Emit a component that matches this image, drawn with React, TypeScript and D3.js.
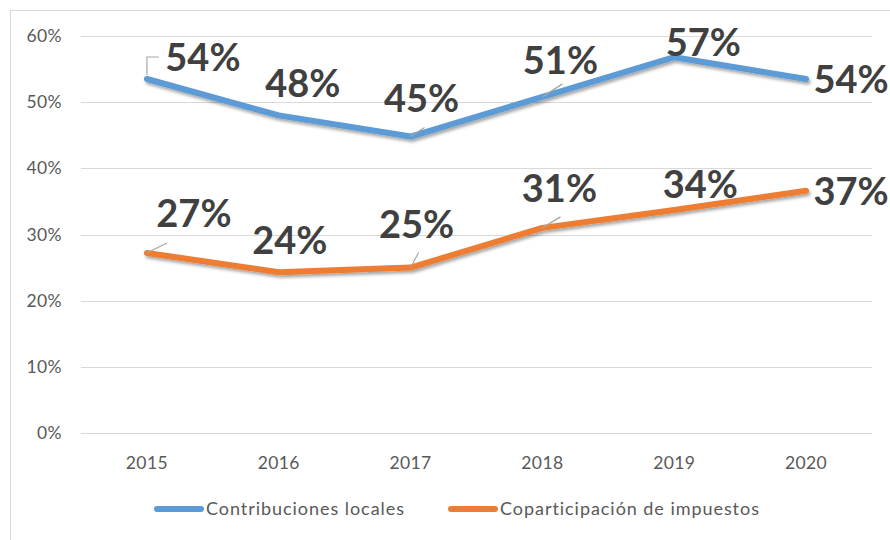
import * as d3 from "d3";
import React from "react";

const years = ["2015", "2016", "2017", "2018", "2019", "2020"];
const contribuciones = [53.5, 48.0, 44.8, 50.8, 56.8, 53.5];
const coparticipacion = [27.2, 24.3, 25.0, 31.0, 33.7, 36.6];
const yTicks = [0, 10, 20, 30, 40, 50, 60];
const seriesNames = ["Contribuciones locales", "Coparticipación de impuestos"];

// label placement relative to each point (layout only)
const blueLabelOffsets = [[56, -22], [24, -32], [11, -38], [18, -37], [29, -15], [45, 0]];
const orangeLabelOffsets = [[47, -40], [11, -32], [6, -43], [17, -40], [26, -26], [45, 0]];

const width = 890;
const height = 540;
const margin = { top: 36, right: 18, bottom: 107, left: 81 };
const colors = ["#5B9BD5", "#ED7D31"];
const font = "Lato, 'Open Sans', sans-serif";

export default function App() {
	const ref = React.useRef<SVGSVGElement>(null);

	React.useEffect(() => {
		const svg = d3.select(ref.current);
		svg.selectAll("*").remove();

		const x = d3
			.scalePoint()
			.domain(years)
			.range([margin.left, width - margin.right])
			.padding(0.5);

		const y = d3
			.scaleLinear()
			.domain([0, 60])
			.range([height - margin.bottom, margin.top]);

		const defs = svg.append("defs");
		defs
			.append("filter")
			.attr("id", "shadow")
			.attr("x", "-10%")
			.attr("y", "-50%")
			.attr("width", "120%")
			.attr("height", "200%")
			.append("feDropShadow")
			.attr("dx", 1.5)
			.attr("dy", 2.5)
			.attr("stdDeviation", 1.8)
			.attr("flood-color", "#000")
			.attr("flood-opacity", 0.35);

		svg
			.append("rect")
			.attr("x", 10.5)
			.attr("y", 10.5)
			.attr("width", width + 10)
			.attr("height", height + 10)
			.attr("fill", "#fff")
			.attr("stroke", "#D9D9D9");

		// gridlines
		svg
			.append("g")
			.selectAll("line")
			.data(yTicks)
			.join("line")
			.attr("x1", margin.left)
			.attr("x2", width - margin.right)
			.attr("y1", (d) => Math.round(y(d)) + 0.5)
			.attr("y2", (d) => Math.round(y(d)) + 0.5)
			.attr("stroke", "#D9D9D9")
			.attr("stroke-width", 1);

		svg
			.append("g")
			.selectAll("text")
			.data(yTicks)
			.join("text")
			.attr("x", 62)
			.attr("y", (d) => y(d))
			.attr("dy", "0.35em")
			.attr("text-anchor", "end")
			.attr("fill", "#595959")
			.style("font-family", font)
			.style("font-size", "17.5px")
			.style("letter-spacing", "0.4px")
			.text((d) => d + "%");

		svg
			.append("g")
			.selectAll("text")
			.data(years)
			.join("text")
			.attr("x", (d) => x(d)!)
			.attr("y", height - margin.bottom + 30)
			.attr("dy", "0.35em")
			.attr("text-anchor", "middle")
			.attr("fill", "#595959")
			.style("font-family", font)
			.style("font-size", "17.5px")
			.style("letter-spacing", "0.4px")
			.text((d) => d);

		const line = d3
			.line<number>()
			.x((d, i) => x(years[i])!)
			.y((d) => y(d));

		const all = [contribuciones, coparticipacion];
		const offsets = [blueLabelOffsets, orangeLabelOffsets];

		all.forEach((values, s) => {
			svg
				.append("path")
				.datum(values)
				.attr("d", line)
				.attr("fill", "none")
				.attr("stroke", colors[s])
				.attr("stroke-width", 6)
				.attr("stroke-linejoin", "round")
				.attr("stroke-linecap", "round")
				.attr("filter", "url(#shadow)");
		});

		// leader lines
		const leaders = svg.append("g").attr("fill", "none").attr("stroke", "#A6A6A6").attr("stroke-width", 1.2);
		const bx = x(years[0])!;
		const by = y(contribuciones[0]);
		leaders
			.append("path")
			.attr("d", `M${bx},${by - 4}V${by - 22}H${bx + 12}`);
		[[0, 2, 14, -9], [0, 3, 20, -13], [1, 0, 20, -10], [1, 2, 8, -15], [1, 3, 18, -11]].forEach(([s, i, dx, dy]) => {
			const px = x(years[i])!;
			const py = y(all[s][i]);
			leaders.append("line").attr("x1", px).attr("y1", py).attr("x2", px + dx).attr("y2", py + dy);
		});

		all.forEach((values, s) => {
			svg
				.append("g")
				.selectAll("text")
				.data(values)
				.join("text")
				.attr("x", (d, i) => x(years[i])! + offsets[s][i][0])
				.attr("y", (d, i) => y(d) + offsets[s][i][1])
				.attr("dy", "0.36em")
				.attr("text-anchor", "middle")
				.attr("fill", "#404040")
				.style("font-family", font)
				.style("font-weight", "bold")
				.style("font-size", "38px")
				.text((d) => Math.round(d) + "%");
		});

		// legend
		const legendX = [154, 448];
		const legend = svg
			.append("g")
			.selectAll("g")
			.data(seriesNames)
			.join("g")
			.attr("transform", (d, i) => `translate(${legendX[i]},509)`);
		legend
			.append("line")
			.attr("x1", 3)
			.attr("x2", 47)
			.attr("stroke", (d, i) => colors[i])
			.attr("stroke-width", 6)
			.attr("stroke-linecap", "round");
		legend
			.append("text")
			.attr("x", 52)
			.attr("dy", "0.35em")
			.attr("fill", "#595959")
			.style("font-family", font)
			.style("font-size", "18px")
			.style("letter-spacing", "0.95px")
			.text((d) => d);
	}, []);

	return (
		<svg
			ref={ref}
			width={width}
			height={height}
			style={{ position: "absolute", left: 0, top: 0, background: "#fff" }}
		/>
	);
}
